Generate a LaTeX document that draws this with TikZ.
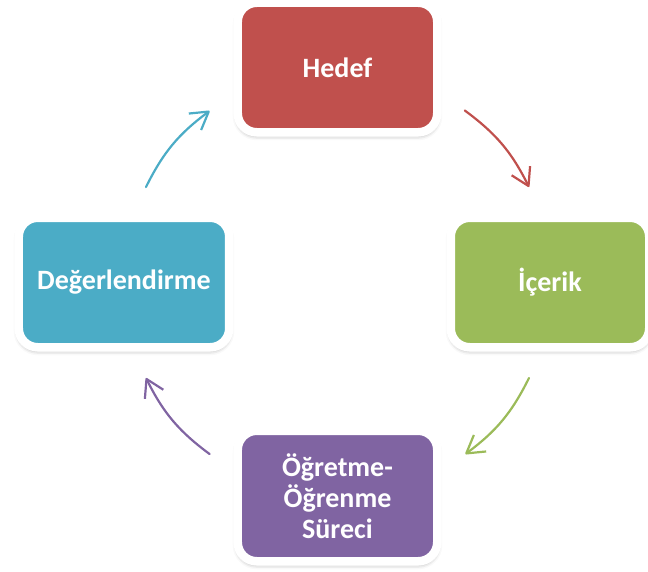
\documentclass[tikz,border=0pt]{standalone}
\usepackage{fontspec}
\setmainfont{Carlito}
\usetikzlibrary{arrows.meta,shadows.blur}

\definecolor{cred}{HTML}{C0504D}
\definecolor{cgreen}{HTML}{9BBB59}
\definecolor{cpurple}{HTML}{8064A2}
\definecolor{cblue}{HTML}{4BACC6}

\tikzset{
  stagebox/.style={
    rectangle, rounded corners=19pt, draw=white, line width=8.5pt,
    fill=#1, text=white, font=\bfseries\fontsize{28}{31}\selectfont,
    align=center, inner sep=0pt,
    blur shadow={shadow xshift=0pt, shadow yshift=-3pt,
                 shadow blur radius=5pt, shadow opacity=40}
  },
  cyclearrow/.style={
    draw=#1, line width=2.2pt, line cap=round,
    -{Straight Barb[angle=62:20pt, line join=round]}
  }
}

\begin{document}
\begin{tikzpicture}[x=1pt,y=1pt]
  \useasboundingbox (-337.5,-288.5) rectangle (310.5,282.5);

  % the four stages of the cycle
  \node[stagebox=cred,    minimum width=199.5pt, minimum height=129.5pt] (hedef)  at (0,215)      {Hedef};
  \node[stagebox=cgreen,  minimum width=198.5pt, minimum height=129.5pt] (icerik) at (212.5,0)    {İçerik};
  \node[stagebox=cpurple, minimum width=199.5pt, minimum height=130.5pt] (surec)  at (0,-213.5)   {Öğretme-\\Öğrenme\\Süreci};
  \node[stagebox=cblue,   minimum width=210.5pt, minimum height=129.5pt] (deger)  at (-213.5,0)   {Değerlendirme};

  % arrow ends on a circle of radius 214pt around the centre
  \coordinate (a1s) at (53.5:214);
  \coordinate (a1e) at (26.5:214);
  \coordinate (a2s) at (-26.5:214);
  \coordinate (a2e) at (-53.3:214);
  \coordinate (a3s) at (-126.7:214);
  \coordinate (a3e) at (-153.5:214);
  \coordinate (a4s) at (153.5:214);
  \coordinate (a4e) at (126.7:214);

  % clockwise arrows between the stages
  \draw[cyclearrow=cred]    (a1s) to[bend left=13.5] (a1e);
  \draw[cyclearrow=cgreen]  (a2s) to[bend left=13.5] (a2e);
  \draw[cyclearrow=cpurple] (a3s) to[bend left=13.5] (a3e);
  \draw[cyclearrow=cblue]   (a4s) to[bend left=13.5] (a4e);
\end{tikzpicture}
\end{document}
